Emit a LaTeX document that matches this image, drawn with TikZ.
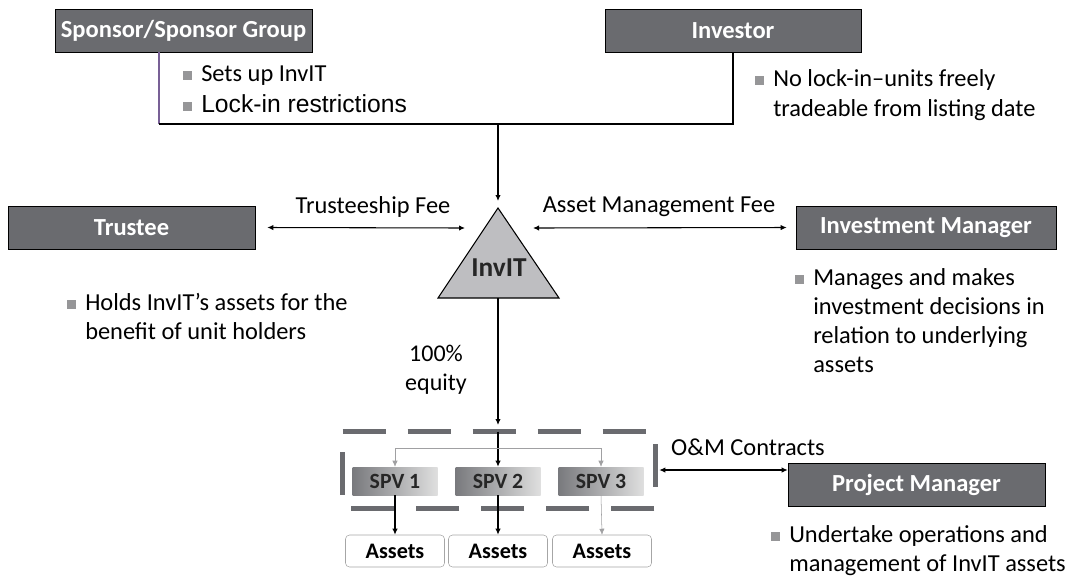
\documentclass[tikz,border=0pt]{standalone}
\usepackage{fontspec}
\setmainfont{Carlito}
\newfontfamily\arialfont{Liberation Sans}
\usetikzlibrary{arrows.meta}

\definecolor{boxgray}{RGB}{106,107,111}
\definecolor{trigray}{RGB}{190,190,193}
\definecolor{bulletgray}{RGB}{150,150,152}
\definecolor{linkgray}{RGB}{160,160,162}
\definecolor{bracketpurple}{RGB}{120,96,150}

\newlength{\bulw}
\setlength{\bulw}{13.5pt}
\NewDocumentCommand{\bul}{m}{\begin{tabular}[t]{@{}p{\bulw}@{}l@{}}%
\textcolor{bulletgray}{\rule[0.06em]{0.36em}{0.36em}} & \begin{tabular}[t]{@{}l@{}}#1\end{tabular}%
\end{tabular}}

\tikzset{
    rolebox/.style={draw=black, fill=boxgray, text=white, font=\fontsize{18.4}{20}\selectfont\bfseries,
        minimum height=43*0.75pt, inner sep=0pt},
    spvbox/.style={left color=boxgray!90, right color=gray!25, text=black!85,
        font=\fontsize{16.3}{18}\selectfont\bfseries, minimum width=85*0.75pt, minimum height=28*0.75pt, inner sep=0pt},
    assetbox/.style={draw=gray!70, rounded corners=3pt, fill=white, font=\fontsize{16.6}{18}\selectfont\bfseries,
        minimum width=99*0.75pt, minimum height=32*0.75pt, inner sep=0pt},
    groupdash/.style={draw=boxgray, line width=5*0.75pt, dash pattern=on 43*0.75pt off 22*0.75pt},
    note/.style={font=\fontsize{18.3}{21.75}\selectfont, anchor=base west, inner sep=0pt},
    fee/.style={font=\fontsize{18.3}{21}\selectfont, inner sep=0pt},
    link/.style={thick, >={Latex[length=4.5pt,width=4pt]}},
}

\begin{document}
\begin{tikzpicture}[x=0.75pt, y=-0.75pt]
    \useasboundingbox (0,0) rectangle (1070,576);

    % Top level parties.
    \node[rolebox, minimum width=257*0.75pt] (sponsor) at (183.5,31) {Sponsor/Sponsor Group};
    \node[rolebox, minimum width=256*0.75pt] (investor) at (733,31) {Investor};
    \node[note] (sponsornote) at (183,81) {\bul{Sets up InvIT}};
    \node[note, font=\arialfont\fontsize{18.5}{21}\selectfont] (sponsornote2) at (183,112)
        {\bul{Lock-in restrictions}};
    \node[note, font=\fontsize{18.3}{22.5}\selectfont] (investornote) at (755,86)
        {\bul{No lock-in--units freely\\tradeable from listing date}};

    % Bracket joining sponsor and investor.
    \coordinate (join) at (498,124);
    \coordinate (sponsorfoot) at (159,52);
    \draw[thick, bracketpurple] (sponsorfoot) -- (sponsorfoot |- join);
    \draw[thick] (sponsorfoot |- join) -- (investor.south |- join) -- (investor.south);

    % The trust.
    \coordinate (invittop) at (498,208);
    \coordinate (invitleft) at (438,298);
    \coordinate (invitright) at (559,298);
    \coordinate (invitbase) at (498,298);
    \draw[thick, fill=trigray] (invittop) -- (invitright) -- (invitleft) -- cycle;
    \node[font=\fontsize{20.5}{22}\selectfont\bfseries, text=black!85] (invit) at (499,268) {InvIT};
    \draw[link, ->] (join) -- ([yshift=7*0.75pt]invittop);

    % Trustee and investment manager.
    \node[rolebox, minimum width=247*0.75pt] (trustee) at (131.5,227.5) {Trustee};
    \node[rolebox, minimum width=260*0.75pt] (manager) at (926,227.5) {Investment Manager};
    \coordinate (trusteefeeend) at (465,228);
    \coordinate (assetfeeend) at (533,228);
    \draw[link, <->] ([xshift=12*0.75pt]trustee.east) -- (trusteefeeend);
    \draw[link, <->] (assetfeeend) -- ([xshift=-9*0.75pt]manager.west);
    \node[fee] (trusteefee) at (373,207) {Trusteeship Fee};
    \node[fee] (assetfee) at (659,207) {Asset Management Fee};
    \node[note] (trusteenote) at (67,310)
        {\bul{Holds InvIT's assets for the\\benefit of unit holders}};
    \node[note] (managernote) at (795,285)
        {\bul{Manages and makes\\investment decisions in\\relation to underlying\\assets}};

    % SPV group.
    \node[minimum width=312*0.75pt, minimum height=76*0.75pt, inner sep=0pt] (spvgroup) at (499,470) {};
    \draw[groupdash] (spvgroup.north west) -- (spvgroup.north east) -- (spvgroup.south east)
        -- (spvgroup.south west) -- cycle;
    \node[spvbox] (spv1) at (395,481) {SPV 1};
    \node[spvbox] (spv2) at (498,481) {SPV 2};
    \node[spvbox] (spv3) at (601,481) {SPV 3};
    \coordinate (equityend) at (498,425);
    \coordinate (fork) at (498,448);
    \draw[link, ->] (invitbase) -- (equityend);
    \draw[link, ->] (spvgroup.north -| spv2) -- (spv2.north);
    \draw[link, ->, linkgray, thin] (fork) -| (spv1.north);
    \draw[link, ->, linkgray, thin] (fork) -| (spv3.north);
    \node[fee, align=center, font=\fontsize{18}{21.5}\selectfont] (equity) at (436,370) {100\%\\equity};

    % Assets below each SPV.
    \node[assetbox] (asset1) at (395,551) {Assets};
    \node[assetbox] (asset2) at (498,551) {Assets};
    \node[assetbox] (asset3) at (602,551) {Assets};
    \draw[link, ->] (spv1.south) -- (asset1.north);
    \draw[link, ->] (spv2.south) -- (asset2.north);
    \draw[link, ->, linkgray, thin] (spv3.south) -- (asset3.north);

    % Project manager.
    \node[rolebox, minimum width=257*0.75pt] (pm) at (916.5,484.5) {Project Manager};
    \draw[link, <->] ([xshift=4*0.75pt]spvgroup.east) -- (pm.west |- spvgroup.east);
    \node[fee] (omfee) at (748,447) {O\&M Contracts};
    \node[note] (pmnote) at (771,542)
        {\bul{Undertake operations and\\management of InvIT assets}};
\end{tikzpicture}
\end{document}
